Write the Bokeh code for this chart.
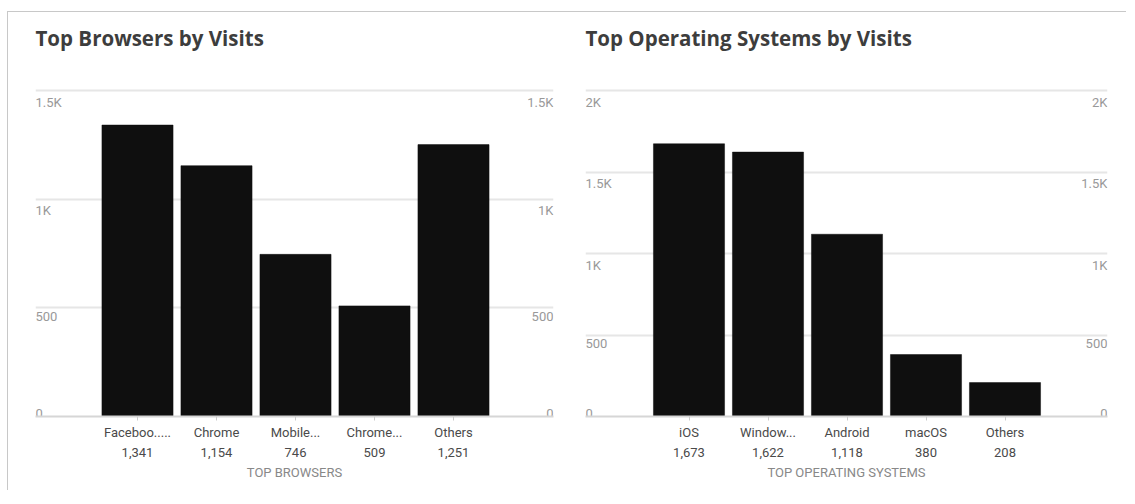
from bokeh.plotting import figure
from bokeh.layouts import row
from bokeh.models import Range1d, FixedTicker, ColumnDataSource
from bokeh.core.properties import value
from bokeh.embed import file_html
from bokeh.resources import INLINE

# ---- data ----
browser_names = ["Faceboo.....", "Chrome", "Mobile...", "Chrome...", "Others"]
browser_visits = [1341, 1154, 746, 509, 1251]
browser_ticks = [0, 500, 1000, 1500]
browser_tick_labels = ["0", "500", "1K", "1.5K"]

os_names = ["iOS", "Window...", "Android", "macOS", "Others"]
os_visits = [1673, 1622, 1118, 380, 208]
os_ticks = [0, 500, 1000, 1500, 2000]
os_tick_labels = ["0", "500", "1K", "1.5K", "2K"]

LABEL_FONT = "Roboto"
TITLE_FONT = "Open Sans"


def make_chart(title, axis_title, names, values, ticks, tick_labels,
               width, b_left, b_right, frame_w, first_center_px):
    height = 478
    b_top = 48
    b_bottom = 74
    frame_h = height - b_top - b_bottom
    pitch = 79.0
    units = frame_w / pitch
    x0 = -first_center_px / pitch
    top_tick = ticks[-1]
    # top gridline sits 30px below the frame top
    y_end = top_tick * frame_h / (frame_h - 30)

    p = figure(width=width, height=height, output_backend="svg",
               toolbar_location=None,
               x_range=Range1d(x0, x0 + units), y_range=Range1d(0, y_end),
               min_border_left=b_left, min_border_right=b_right,
               min_border_top=b_top, min_border_bottom=b_bottom)
    p.outline_line_color = None
    p.background_fill_color = "white"
    p.border_fill_color = "white"

    p.title.text = title
    p.title.text_font = TITLE_FONT
    p.title.text_font_size = "20.5px"
    p.title.text_font_style = "bold"
    p.title.text_color = "#3d3d3d"
    p.title.align = "left"
    p.title.standoff = 18

    xs = list(range(len(names)))
    src = ColumnDataSource(dict(x=xs, top=values))
    p.vbar(x="x", top="top", width=0.9, source=src,
           fill_color="#0f0f0f", line_color="#0f0f0f", line_width=0.5)

    p.yaxis.visible = False
    p.xgrid.visible = False
    p.ygrid.ticker = FixedTicker(ticks=ticks)
    p.ygrid.grid_line_color = "#e6e6e6"
    p.ygrid.grid_line_width = 2

    ax = p.xaxis[0]
    ax.ticker = FixedTicker(ticks=xs)
    ax.major_label_overrides = {i: f"{n}\n{v:,}" for i, (n, v) in enumerate(zip(names, values))}
    ax.major_label_text_font = LABEL_FONT
    ax.major_label_text_font_size = "13px"
    ax.major_label_text_color = "#4a4a4a"
    ax.major_label_text_line_height = 1.35
    ax.major_label_standoff = 4
    ax.axis_line_color = "#d6d6d6"
    ax.axis_line_width = 2
    ax.major_tick_line_color = "#cccccc"
    ax.major_tick_out = 4
    ax.major_tick_in = 0
    ax.minor_tick_line_color = None
    ax.axis_label = axis_title
    ax.axis_label_text_font = LABEL_FONT
    ax.axis_label_text_font_size = "13px"
    ax.axis_label_text_font_style = "normal"
    ax.axis_label_text_color = "#888888"
    ax.axis_label_standoff = 2

    # value labels inside the plot next to grid lines (left and right)
    upper = [t for t in ticks if t > 0]
    upper_lbl = [l for t, l in zip(ticks, tick_labels) if t > 0]
    zero_lbl = [l for t, l in zip(ticks, tick_labels) if t == 0]
    for xpos, align in ((x0, "left"), (x0 + units, "right")):
        p.text(x=[xpos] * len(upper), y=upper, text=upper_lbl,
               text_font=value(LABEL_FONT), text_font_size="13px",
               text_color="#999999", text_align=align, text_baseline="top",
               y_offset=4)
        p.text(x=[xpos] * len(zero_lbl), y=[0] * len(zero_lbl), text=zero_lbl,
               text_font=value(LABEL_FONT), text_font_size="13px",
               text_color="#999999", text_align=align, text_baseline="alphabetic",
               y_offset=-3)
    return p


p1 = make_chart("Top Browsers by Visits", "TOP BROWSERS", browser_names, browser_visits,
                browser_ticks, browser_tick_labels,
                width=557, b_left=27, b_right=12, frame_w=518, first_center_px=102)
p2 = make_chart("Top Operating Systems by Visits", "TOP OPERATING SYSTEMS", os_names, os_visits,
                os_ticks, os_tick_labels,
                width=561, b_left=20, b_right=19, frame_w=522, first_center_px=103.5)

layout = row(p1, p2, styles={"border-top": "1px solid #c8c8c8",
                             "border-left": "1px solid #c8c8c8",
                             "margin-top": "11px",
                             "margin-left": "7px"})

open("out.html", "w").write(file_html(layout, INLINE))
